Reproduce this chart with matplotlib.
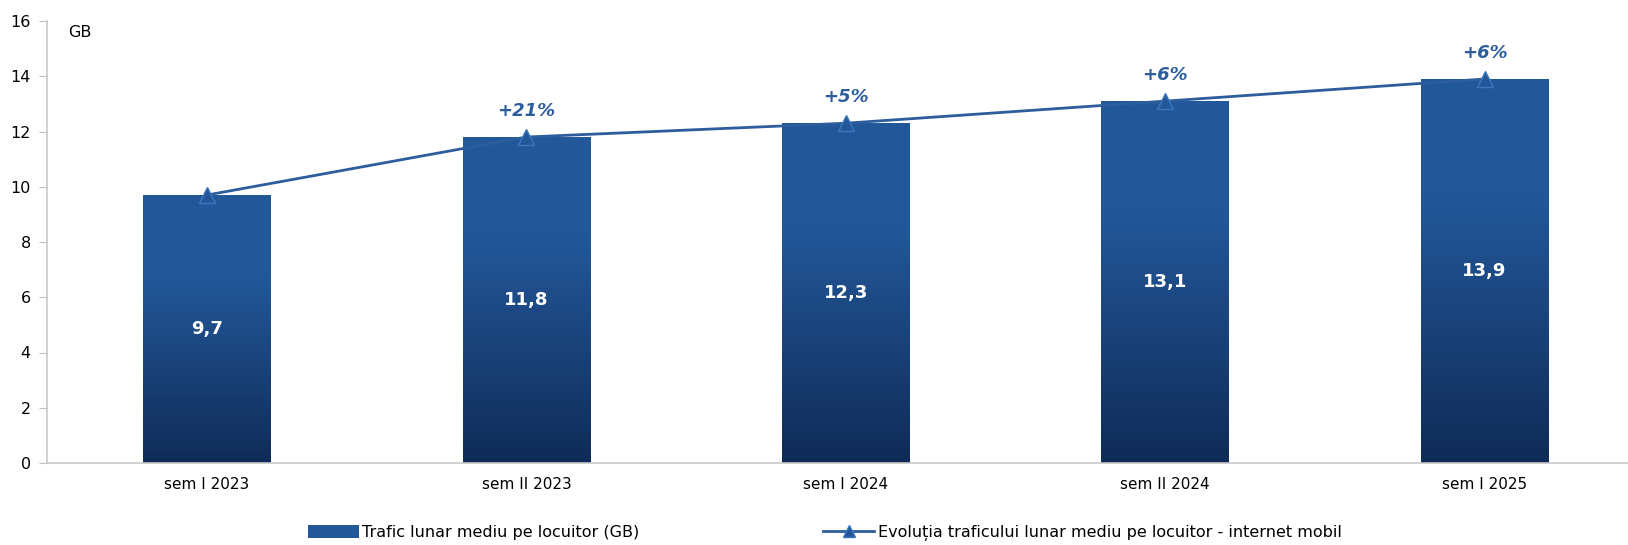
import matplotlib
matplotlib.use("Agg")
import matplotlib.pyplot as plt
import numpy as np
from matplotlib.colors import LinearSegmentedColormap

categories = ["sem I 2023", "sem II 2023", "sem I 2024", "sem II 2024", "sem I 2025"]
traffic = [9.7, 11.8, 12.3, 13.1, 13.9]
evolution = [9.7, 11.8, 12.3, 13.1, 13.9]
growth_labels = ["", "+21%", "+5%", "+6%", "+6%"]
value_labels = ["9,7", "11,8", "12,3", "13,1", "13,9"]
yticks = [0, 2, 4, 6, 8, 10, 12, 14, 16]

plt.rcParams['font.family'] = ['DejaVu Sans']

W, H = 1628, 545
fig = plt.figure(figsize=(W / 100, H / 100), dpi=100)
left = 47.3 / W
bottom = (H - 463) / H
top = (H - 21) / H
width = 5 * 319.4 / W
ax = fig.add_axes([left, bottom, width, top - bottom])

x = np.arange(len(categories))
top_col = "#22589A"
bot_col = "#0F2B57"
bars = ax.bar(x, traffic, width=0.40, color=top_col, edgecolor="none", zorder=2,
              label="Trafic lunar mediu pe locuitor (GB)")

cmap = LinearSegmentedColormap.from_list("g", [(0, bot_col), (0.35, "#1A4279"), (0.7, top_col), (1, top_col)])
grad = np.linspace(0, 1, 256).reshape(-1, 1)
for b in bars:
    bx, by = b.get_x(), b.get_y()
    bw, bh = b.get_width(), b.get_height()
    im = ax.imshow(grad, cmap=cmap, origin="lower", aspect="auto",
                   extent=[bx, bx + bw, by, by + bh], zorder=2.1)
    im.set_clip_path(b)

line, = ax.plot(x, evolution, color="#2D5D9C", lw=2, marker="^", markersize=11,
                markerfacecolor="#23579A", markeredgecolor="#3A77C0", markeredgewidth=1,
                zorder=4, label="Evoluția traficului lunar mediu pe locuitor - internet mobil")

for xi, v, lab in zip(x, traffic, value_labels):
    ax.text(xi, v / 2, lab, color="white", fontsize=13, fontweight="bold",
            ha="center", va="center", zorder=5)

for xi, v, g in zip(x, evolution, growth_labels):
    if g:
        ax.text(xi, v + 0.95, g, color="#2D5D9C", fontsize=13, fontweight="bold",
                fontstyle="italic", ha="center", va="center", zorder=5)

ax.text(-0.435, 15.6, "GB", fontsize=11.5, ha="left", va="center", color="#000000")

ax.set_xlim(-0.5, 4.5)
ax.set_ylim(0, 16)
ax.set_yticks(yticks)
ax.set_yticklabels([str(t) for t in yticks], fontsize=11.5)
ax.set_xticks(x)
ax.set_xticklabels(categories, fontsize=11)
ax.tick_params(axis="x", length=0, pad=10)
ax.tick_params(axis="y", length=6, color="#BFBFBF", pad=6, direction="out")
for s in ["top", "right"]:
    ax.spines[s].set_visible(False)
for s in ["left", "bottom"]:
    ax.spines[s].set_color("#C8C8C8")
    ax.spines[s].set_linewidth(1.2)

leg = fig.legend([bars, line], [bars.get_label(), line.get_label()],
                 loc="center left", bbox_to_anchor=(308 / W, 0.022), ncol=2, frameon=False,
                 fontsize=11.5, columnspacing=11.5, handlelength=3.2, handletextpad=0.2,
                 handleheight=0.9, markerscale=0.8, borderpad=0, borderaxespad=0)

fig.savefig("out.png", dpi=100)
